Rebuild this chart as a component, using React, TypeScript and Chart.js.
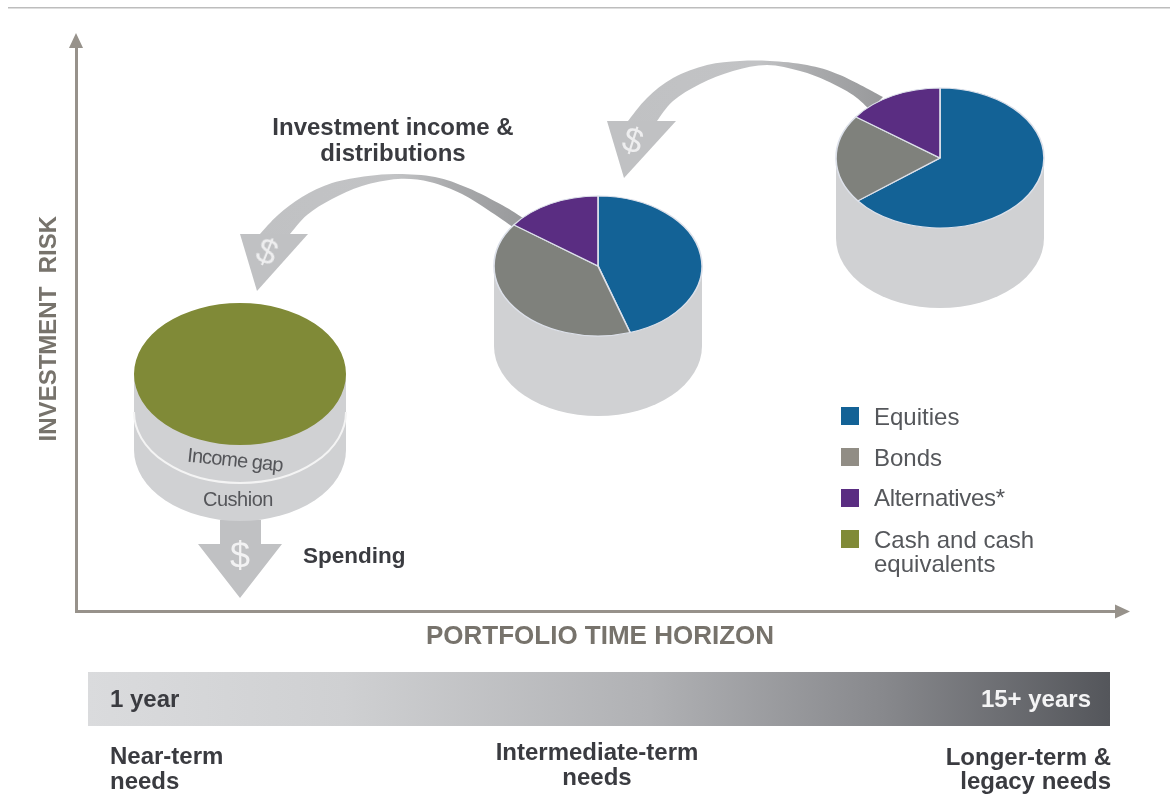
import React, { useEffect, useRef } from "react";
import { Chart, registerables } from "chart.js";

Chart.register(...registerables);

const FONT = '"Liberation Sans", Arial, sans-serif';

const categories = ["Equities", "Bonds", "Alternatives*", "Cash and cash equivalents"];
const colors = ["#136296", "#7f817c", "#5a2d82", "#808a37"];
const legendColors = ["#136296", "#918d85", "#5a2d82", "#808a37"];

// share of each stage: near-term, intermediate-term, longer-term
const equities = [0, 45, 64.5];
const bonds = [0, 40, 20.5];
const alternatives = [0, 15, 15];
const cash = [100, 0, 0];
const allSeries = [equities, bonds, alternatives, cash];

const timeBar: [number, number][] = [[1, 15]];
const timeBarLabels = ["Portfolio time horizon"];

const pieBoxes = [
  { cx: 240, cy: 374, rx: 106, ry: 71, depth: 76, border: "#808a37", borderWidth: 0 },
  { cx: 598, cy: 266, rx: 104, ry: 70, depth: 80, border: "#dde1ea", borderWidth: 1.1 },
  { cx: 940, cy: 158, rx: 104, ry: 70, depth: 80, border: "#dde1ea", borderWidth: 1.1 },
];

type Pt = [number, number];
const arrowA = {
  outer: [[260, 234], [278, 215], [302, 197], [332, 183], [368, 176], [398, 174], [435, 177], [468, 188], [502, 205], [523, 218]] as Pt[],
  inner: [[290, 234], [307, 215], [332, 199], [362, 186], [398, 179], [430, 182], [462, 194], [488, 210], [513, 227]] as Pt[],
  head: [[240, 234], [308, 234], [257, 291]] as Pt[],
};
const arrowB = {
  outer: [[628, 121], [647, 98], [673, 78], [707, 65], [740, 61], [770, 61], [807, 65], [840, 75], [883, 97]] as Pt[],
  inner: [[657, 121], [673, 101], [700, 84], [733, 71], [767, 65], [800, 71], [827, 81], [853, 95], [870, 110]] as Pt[],
  head: [[607, 121], [676, 121], [624, 178]] as Pt[],
};
const spendArrow: Pt[] = [[220, 520], [261, 520], [261, 544], [282, 544], [240, 598], [198, 544], [220, 544]];

const AXIS = "#97928b";

// Catmull-Rom through the points, so that the edges stay where they were read
function smooth(ctx: CanvasRenderingContext2D, pts: Pt[], start: boolean) {
  if (start) ctx.moveTo(pts[0][0], pts[0][1]);
  else ctx.lineTo(pts[0][0], pts[0][1]);
  for (let i = 0; i < pts.length - 1; i++) {
    const p0 = pts[Math.max(0, i - 1)];
    const p1 = pts[i];
    const p2 = pts[i + 1];
    const p3 = pts[Math.min(pts.length - 1, i + 2)];
    ctx.bezierCurveTo(
      p1[0] + (p2[0] - p0[0]) / 6,
      p1[1] + (p2[1] - p0[1]) / 6,
      p2[0] - (p3[0] - p1[0]) / 6,
      p2[1] - (p3[1] - p1[1]) / 6,
      p2[0],
      p2[1]
    );
  }
}

function drawCurved(ctx: CanvasRenderingContext2D, a: typeof arrowA) {
  const x0 = a.head[0][0];
  const x1 = a.outer[a.outer.length - 1][0];
  const g = ctx.createLinearGradient(x0, 0, x1, 0);
  g.addColorStop(0, "#c0c1c3");
  g.addColorStop(0.55, "#c2c3c5");
  g.addColorStop(0.75, "#a9aaac");
  g.addColorStop(1, "#98999b");
  ctx.fillStyle = g;
  ctx.beginPath();
  smooth(ctx, a.outer, true);
  smooth(ctx, [...a.inner].reverse(), false);
  ctx.closePath();
  ctx.fill();
  ctx.fillStyle = "#c0c1c3";
  ctx.beginPath();
  a.head.forEach((p, i) => (i ? ctx.lineTo(p[0], p[1]) : ctx.moveTo(p[0], p[1])));
  ctx.closePath();
  ctx.fill();
}

const scenery = {
  id: "scenery",
  beforeDraw(chart: any) {
    const ctx: CanvasRenderingContext2D = chart.ctx;
    ctx.save();
    ctx.fillStyle = "#bdbdbd";
    ctx.fillRect(8, 7, 1162, 1.5);
    drawCurved(ctx, arrowA);
    drawCurved(ctx, arrowB);
    ctx.fillStyle = "#c0c1c3";
    ctx.beginPath();
    spendArrow.forEach((p, i) => (i ? ctx.lineTo(p[0], p[1]) : ctx.moveTo(p[0], p[1])));
    ctx.closePath();
    ctx.fill();
    pieBoxes.forEach((b) => {
      ctx.fillStyle = "#d0d1d3";
      ctx.beginPath();
      ctx.moveTo(b.cx - b.rx, b.cy);
      ctx.lineTo(b.cx - b.rx, b.cy + b.depth);
      ctx.ellipse(b.cx, b.cy + b.depth, b.rx, b.ry, 0, Math.PI, 0, true);
      ctx.lineTo(b.cx + b.rx, b.cy);
      ctx.closePath();
      ctx.fill();
    });
    const a = pieBoxes[0];
    ctx.strokeStyle = "#f4f4f4";
    ctx.lineWidth = 2;
    ctx.beginPath();
    ctx.ellipse(a.cx, a.cy + 38, a.rx, a.ry, 0, Math.PI, 0, true);
    ctx.stroke();
    ctx.restore();
  },
  afterDraw(chart: any) {
    const ctx: CanvasRenderingContext2D = chart.ctx;
    const { left, top, right, bottom } = chart.chartArea;
    ctx.save();
    ctx.fillStyle = AXIS;
    ctx.beginPath();
    ctx.moveTo(left, top - 13);
    ctx.lineTo(left - 7, top + 2);
    ctx.lineTo(left + 7, top + 2);
    ctx.closePath();
    ctx.fill();
    ctx.beginPath();
    ctx.moveTo(right + 6, bottom);
    ctx.lineTo(right - 9, bottom - 7);
    ctx.lineTo(right - 9, bottom + 7);
    ctx.closePath();
    ctx.fill();
    ctx.restore();
  },
};

const squash = {
  id: "squash",
  beforeDatasetsDraw(chart: any, _a: any, opts: any) {
    const { left, right, top, bottom } = chart.chartArea;
    const cx = (left + right) / 2;
    const cy = (top + bottom) / 2;
    chart.ctx.save();
    chart.ctx.translate(cx, cy);
    chart.ctx.scale(opts.sx, 1);
    chart.ctx.translate(-cx, -cy);
  },
  afterDatasetsDraw(chart: any) {
    chart.ctx.restore();
  },
};

type TextProps = {
  x: number;
  y: number;
  size: number;
  color: string;
  bold?: boolean;
  align?: "left" | "center" | "right";
  rotate?: number;
  spacing?: number;
  children: React.ReactNode;
};

function T({ x, y, size, color, bold, align = "left", rotate = 0, spacing, children }: TextProps) {
  const tx = align === "left" ? "0" : align === "center" ? "-50%" : "-100%";
  return (
    <span
      style={{
        position: "absolute",
        left: x,
        top: y,
        transform: `translate(${tx}, -50%) rotate(${rotate}deg)`,
        font: `${bold ? "bold " : ""}${size}px ${FONT}`,
        color,
        whiteSpace: "nowrap",
        letterSpacing: spacing,
      }}
    >
      {children}
    </span>
  );
}

export default function App() {
  const baseRef = useRef<HTMLCanvasElement>(null);
  const barRef = useRef<HTMLCanvasElement>(null);
  const pieRefs = useRef<(HTMLCanvasElement | null)[]>([]);

  useEffect(() => {
    const charts: Chart[] = [];
    charts.push(
      new Chart(baseRef.current!, {
        type: "scatter",
        data: { datasets: [] },
        plugins: [scenery],
        options: {
          animation: false,
          responsive: false,
          layout: { padding: { left: 35.2, top: 46, right: 46, bottom: 156 } },
          plugins: { legend: { display: false }, tooltip: { enabled: false } },
          scales: {
            x: {
              min: 0,
              max: 1,
              ticks: { display: false },
              grid: { display: false, drawTicks: false },
              border: { color: AXIS, width: 3 },
              title: {
                display: true,
                text: "PORTFOLIO TIME HORIZON",
                color: "#77736c",
                font: { family: FONT, size: 26, weight: "bold" },
                padding: { top: 9.4, bottom: 0 },
              },
            },
            y: {
              min: 0,
              max: 1,
              ticks: { display: false },
              grid: { display: false, drawTicks: false },
              border: { color: AXIS, width: 3 },
              title: {
                display: true,
                text: "INVESTMENT  RISK",
                color: "#77736c",
                font: { family: FONT, size: 24, weight: "bold" },
                padding: { top: 0, bottom: 12 },
              },
            },
          },
        } as any,
      })
    );

    pieBoxes.forEach((b, stage) => {
      const idx = categories.map((_, i) => i).filter((i) => allSeries[i][stage] > 0);
      charts.push(
        new Chart(pieRefs.current[stage]!, {
          type: "pie",
          data: {
            labels: idx.map((i) => categories[i]),
            datasets: [
              {
                data: idx.map((i) => allSeries[i][stage]),
                backgroundColor: idx.map((i) => colors[i]),
                borderColor: b.border,
                borderWidth: b.borderWidth,
                clip: false,
              } as any,
            ],
          },
          plugins: [squash],
          options: {
            animation: false,
            responsive: false,
            radius: b.ry,
            layout: { padding: 0 },
            plugins: { legend: { display: false }, tooltip: { enabled: false }, squash: { sx: b.rx / b.ry } },
          } as any,
        })
      );
    });

    charts.push(
      new Chart(barRef.current!, {
        type: "bar",
        data: {
          labels: timeBarLabels,
          datasets: [
            {
              data: timeBar as any,
              borderWidth: 0,
              barPercentage: 1,
              categoryPercentage: 1,
              backgroundColor: (c: any) => {
                const w = c.chart.width;
                const g = c.chart.ctx.createLinearGradient(0, 0, w, 0);
                g.addColorStop(0, "#dadbdd");
                g.addColorStop(0.25, "#cfd0d2");
                g.addColorStop(0.55, "#b0b1b4");
                g.addColorStop(0.78, "#87888c");
                g.addColorStop(1, "#54565b");
                return g;
              },
            },
          ],
        },
        options: {
          animation: false,
          responsive: false,
          indexAxis: "y",
          layout: { padding: 0 },
          plugins: { legend: { display: false }, tooltip: { enabled: false } },
          scales: {
            x: { display: false, min: 1, max: 15 },
            y: { display: false },
          },
        } as any,
      })
    );

    return () => charts.forEach((c) => c.destroy());
  }, []);

  const textDark = "#3a3b40";
  const legendText = "#55575b";
  const legendSquares = [407, 448, 489, 530];

  return (
    <div
      style={{
        position: "absolute",
        left: 0,
        top: 0,
        width: 1170,
        height: 808,
        overflow: "hidden",
        background: "#fff",
        filter: "blur(0.5px)",
      }}
    >
      <canvas ref={baseRef} width={1170} height={808} style={{ position: "absolute", left: 0, top: 0 }} />
      {pieBoxes.map((b, i) => (
        <canvas
          key={i}
          ref={(el) => {
            pieRefs.current[i] = el;
          }}
          width={2 * b.rx + 8}
          height={2 * b.ry + 8}
          style={{ position: "absolute", left: b.cx - b.rx - 4, top: b.cy - b.ry - 4 }}
        />
      ))}
      <canvas ref={barRef} width={1022} height={54} style={{ position: "absolute", left: 88, top: 672 }} />

      <T x={393} y={127} size={24} color={textDark} bold align="center">Investment income &amp;</T>
      <T x={393} y={153} size={24} color={textDark} bold align="center">distributions</T>
      <T x={303} y={556} size={22.5} color={textDark} bold>Spending</T>

      <T x={267} y={252} size={35} color="#eeeeef" align="center" rotate={22}>$</T>
      <T x={633} y={140} size={35} color="#eeeeef" align="center" rotate={18}>$</T>
      <T x={240} y={556} size={36} color="#f2f2f3" align="center">$</T>

      <T x={235} y={460} size={20} color="#55565a" align="center" rotate={6} spacing={-0.9}>Income gap</T>
      <T x={238} y={499} size={20} color="#55565a" align="center" spacing={-0.5}>Cushion</T>

      {categories.map((_, i) => (
        <div
          key={i}
          style={{
            position: "absolute",
            left: 841,
            top: legendSquares[i],
            width: 18,
            height: 18,
            background: legendColors[i],
          }}
        />
      ))}
      <T x={874} y={417} size={24} color={legendText}>Equities</T>
      <T x={874} y={458} size={24} color={legendText}>Bonds</T>
      <T x={874} y={498} size={24} color={legendText} spacing={-0.3}>Alternatives*</T>
      <T x={874} y={540} size={24} color={legendText}>Cash and cash</T>
      <T x={874} y={564} size={24} color={legendText}>equivalents</T>

      <T x={110} y={699} size={24} color={textDark} bold>1 year</T>
      <T x={1091} y={699} size={24} color="#f4f4f5" bold align="right">15+ years</T>

      <T x={110} y={756} size={24} color={textDark} bold>Near-term</T>
      <T x={110} y={781} size={24} color={textDark} bold>needs</T>
      <T x={597} y={752} size={24} color={textDark} bold align="center">Intermediate-term</T>
      <T x={597} y={777} size={24} color={textDark} bold align="center">needs</T>
      <T x={1111} y={757} size={24} color={textDark} bold align="right">Longer-term &amp;</T>
      <T x={1111} y={781} size={24} color={textDark} bold align="right">legacy needs</T>
    </div>
  );
}
